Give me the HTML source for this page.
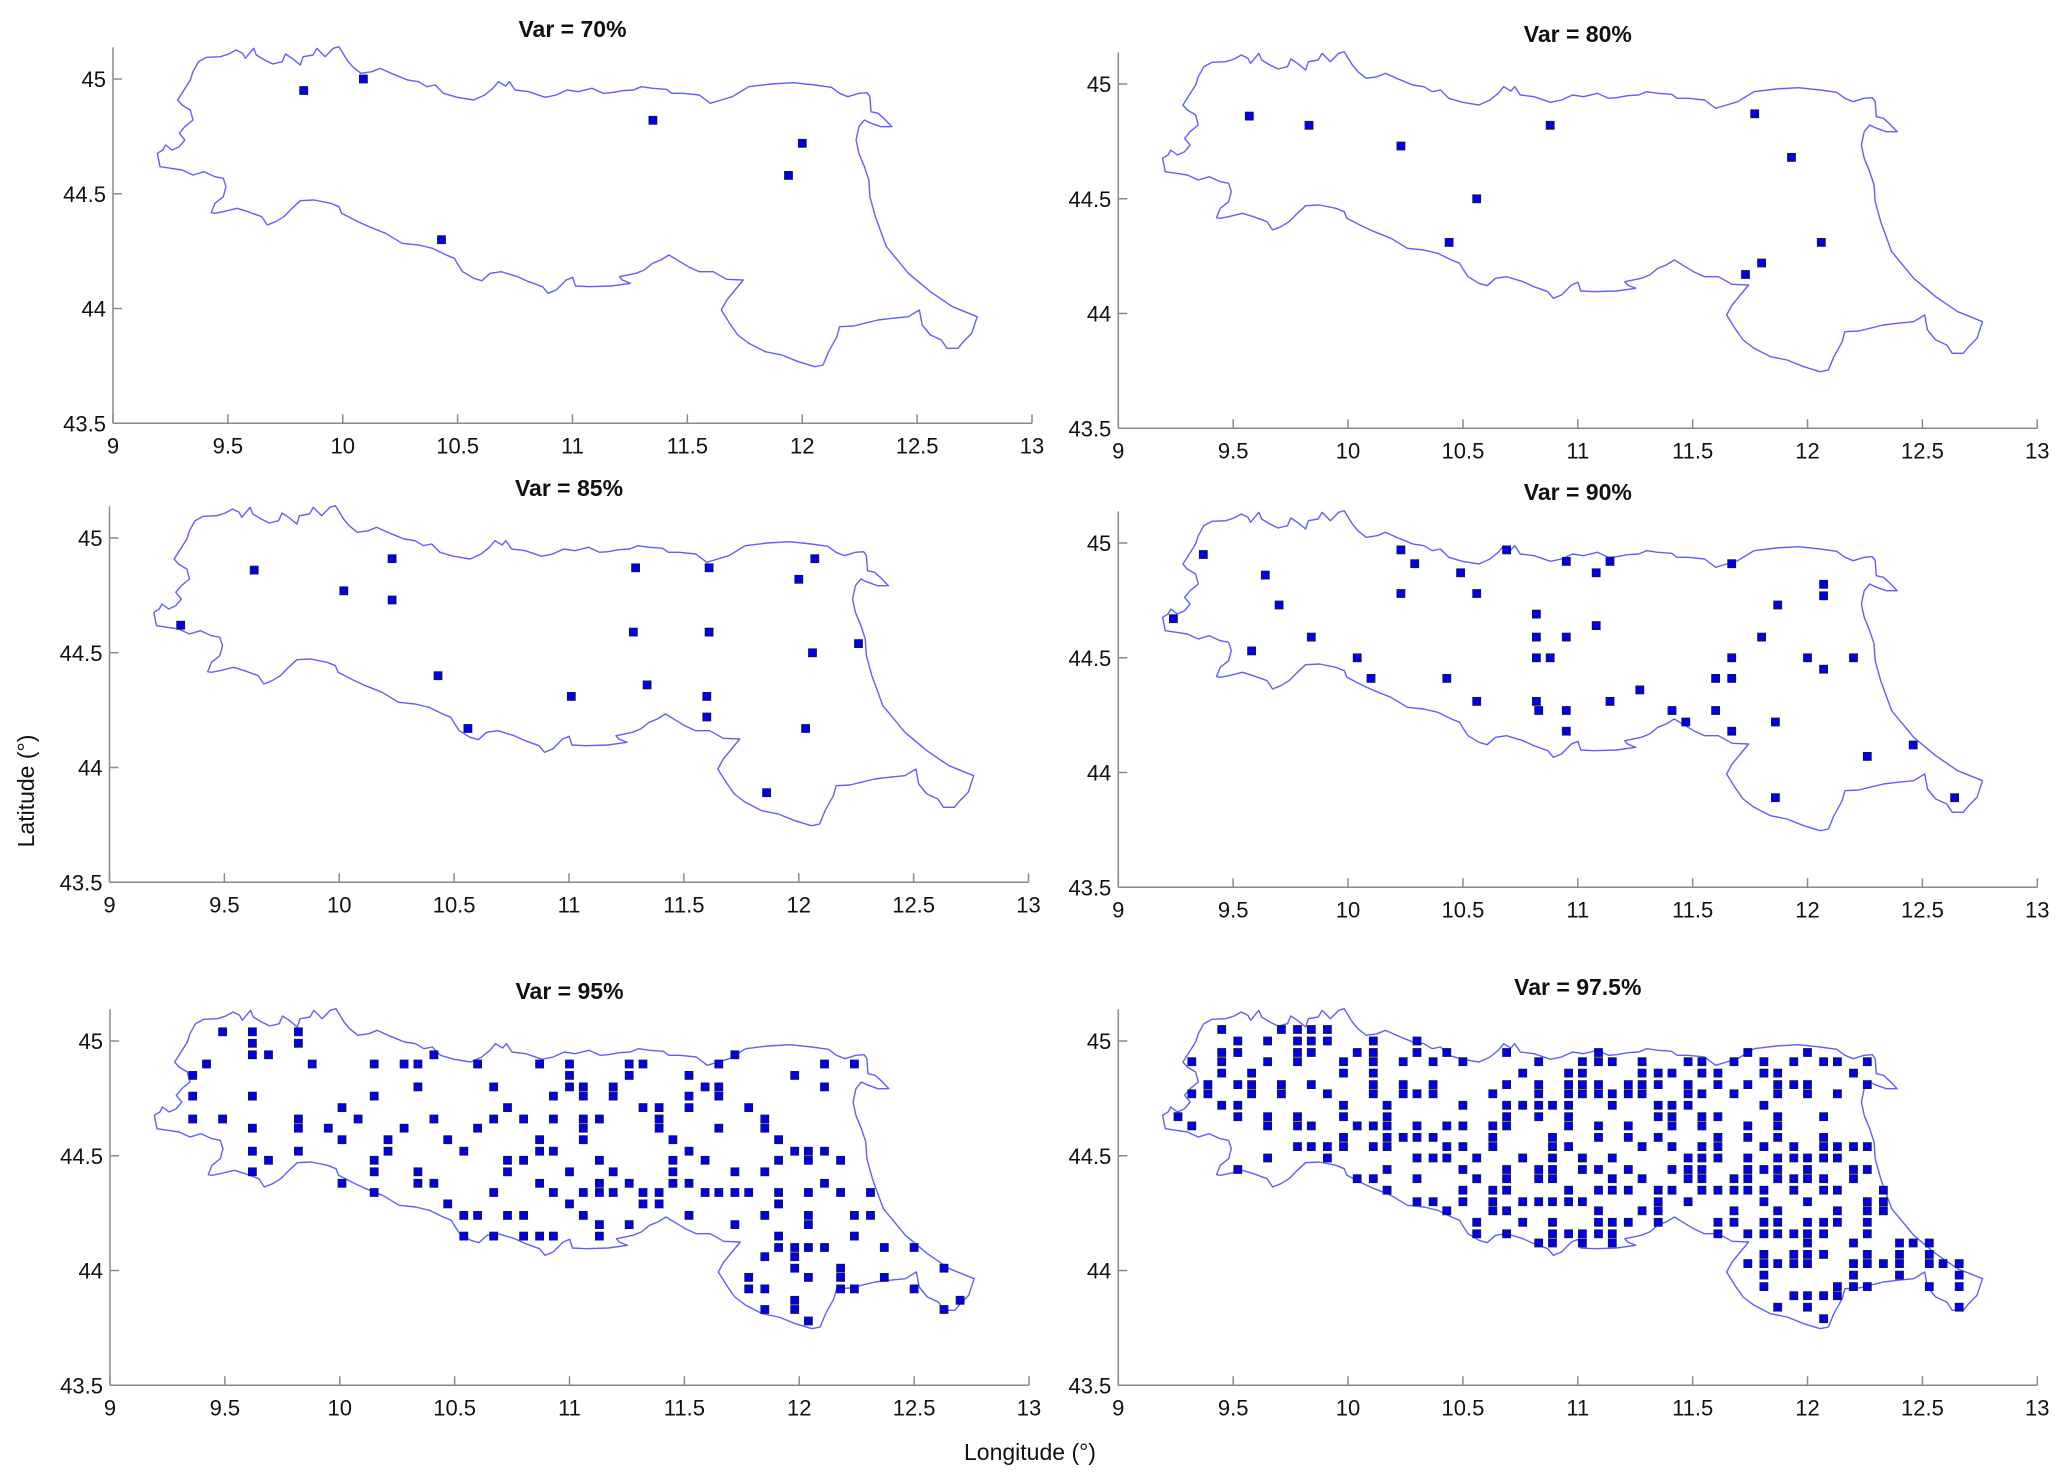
<!DOCTYPE html>
<html><head><meta charset="utf-8"><style>
html,body{margin:0;padding:0;background:#fff}
svg{display:block}
text{font-family:"Liberation Sans",Arial,sans-serif;fill:#111}
</style></head><body>
<svg id="fig" width="2067" height="1484" viewBox="0 0 2067 1484" xmlns="http://www.w3.org/2000/svg">
<text x="0" y="0" font-size="23" text-anchor="middle" transform="translate(34,791) rotate(-90)">Latitude (°)</text>
<text x="1030" y="1460" font-size="23" text-anchor="middle">Longitude (°)</text>
</svg>
<script>
// ---- data (degrees) ----
const xTicks = [9, 9.5, 10, 10.5, 11, 11.5, 12, 12.5, 13];
const xTickLabels = ["9","9.5","10","10.5","11","11.5","12","12.5","13"];
const yTicks = [43.5, 44, 44.5, 45];
const yTickLabels = ["43.5","44","44.5","45"];
const panelTitles = ["Var = 70%","Var = 80%","Var = 85%","Var = 90%","Var = 95%","Var = 97.5%"];

const p1Lon = [9.83,10.09,11.35,12.00,11.94,10.43];
const p1Lat = [44.95,45.00,44.82,44.72,44.58,44.30];

const p2Lon = [9.57,9.83,10.23,10.88,11.77,11.93,10.56,10.44,12.06,11.80,11.73];
const p2Lat = [44.86,44.82,44.73,44.82,44.87,44.68,44.50,44.31,44.31,44.22,44.17];

const p3Lon = [9.31,9.63,10.02,10.23,10.23,10.43,10.56,11.01,11.29,11.28,11.34,11.61,11.61,11.60,11.60,12.00,12.07,12.06,12.26,12.03,11.86];
const p3Lat = [44.62,44.86,44.77,44.91,44.73,44.40,44.17,44.31,44.87,44.59,44.36,44.87,44.59,44.31,44.22,44.82,44.91,44.50,44.54,44.17,43.89];

const p4Lon = [9.37,9.24,9.64,9.70,9.84,9.58,10.04,10.10,10.23,10.29,10.23,10.49,10.56,10.43,10.56,10.69,10.83,10.82,10.82,10.82,10.88,10.82,10.95,10.95,10.95,10.95,11.08,11.14,11.08,11.14,11.27,11.41,11.60,11.67,11.60,11.47,11.67,11.67,11.67,11.80,11.87,11.86,11.86,12.00,12.07,12.07,12.07,12.20,12.26,12.46,12.64];
const p4Lat = [44.95,44.67,44.86,44.73,44.59,44.53,44.50,44.41,44.97,44.91,44.78,44.87,44.78,44.41,44.31,44.97,44.27,44.69,44.59,44.50,44.50,44.31,44.92,44.59,44.27,44.18,44.87,44.92,44.64,44.31,44.36,44.27,44.41,44.50,44.27,44.22,44.41,44.18,44.91,44.59,44.73,44.22,43.89,44.50,44.82,44.77,44.45,44.50,44.07,44.12,43.89];

const p5RowLat = [45.04,44.99,44.94,44.90,44.85,44.80,44.76,44.71,44.66,44.62,44.57,44.52,44.48,44.43,44.38,44.34,44.29,44.24,44.20,44.15,44.10,44.06,44.01,43.97,43.92,43.87,43.83,43.78];
const p5RowLon = [
[9.49,9.62,9.82],
[9.62,9.82],
[9.62,9.69,10.41,11.72],
[9.42,9.88,10.15,10.28,10.34,10.60,10.87,11.00,11.26,11.32,11.65,12.11,12.24],
[9.36,11.00,11.26,11.52,11.98],
[10.34,10.67,11.00,11.06,11.19,11.59,11.65,12.11],
[9.36,9.62,10.15,10.93,11.06,11.19,11.52,11.65],
[10.01,10.73,11.32,11.39,11.52,11.78],
[9.36,9.49,9.82,10.08,10.41,10.67,10.80,10.93,11.06,11.13,11.39,11.85],
[9.62,9.82,9.95,10.28,10.60,11.06,11.39,11.65,11.85],
[10.01,10.21,10.47,10.87,11.06,11.45,11.91],
[9.62,9.82,10.21,10.54,10.87,10.93,11.52,11.98,12.04,12.11],
[9.69,10.15,10.73,10.80,11.13,11.45,11.59,11.91,12.04,12.18],
[9.62,10.15,10.34,10.73,11.00,11.19,11.45,11.72,11.85],
[10.01,10.34,10.41,10.87,11.13,11.26,11.45,11.52,12.11],
[10.15,10.67,10.93,11.06,11.13,11.19,11.32,11.39,11.59,11.65,11.72,11.78,11.91,12.04,12.18,12.31],
[10.47,11.00,11.32,11.39,11.91],
[10.54,10.60,10.73,10.80,11.06,11.52,11.85,12.04,12.24,12.31],
[11.13,11.26,11.72,12.04],
[10.54,10.67,10.80,10.87,10.93,11.13,11.91,12.24],
[11.91,11.98,12.04,12.11,12.37,12.50],
[11.85,11.98],
[11.98,12.18,12.63],
[11.78,12.04,12.18,12.37],
[11.78,11.85,12.18,12.24,12.50],
[11.98,12.70],
[11.85,11.98,12.63],
[12.04]
];

const p6RowLat = [45.05,45.00,44.95,44.91,44.86,44.81,44.77,44.72,44.67,44.63,44.58,44.54,44.49,44.44,44.40,44.35,44.30,44.26,44.21,44.16,44.12,44.07,44.03,43.98,43.93,43.89,43.84,43.79];
const p6RowLon = [
[9.45,9.71,9.78,9.84,9.91],
[9.52,9.65,9.78,9.84,9.91,10.11,10.30],
[9.45,9.52,9.78,9.84,10.04,10.11,10.30,10.43,10.69,11.09,11.74,12.00],
[9.32,9.45,9.65,9.78,9.98,10.11,10.24,10.37,10.50,10.83,11.02,11.09,11.15,11.28,11.48,11.54,11.68,11.81,11.94,12.07,12.13,12.26],
[9.45,9.58,9.98,10.11,10.76,10.96,11.02,11.28,11.35,11.41,11.54,11.61,11.81,11.87,12.20],
[9.39,9.52,9.58,9.71,9.84,10.11,10.24,10.37,10.69,10.83,10.96,11.02,11.09,11.22,11.28,11.35,11.48,11.61,11.74,11.87,11.94,12.00,12.26],
[9.32,9.39,9.58,9.71,9.91,10.11,10.24,10.30,10.37,10.63,10.83,10.96,11.02,11.09,11.15,11.22,11.28,11.48,11.54,11.68,11.87,12.00,12.13],
[9.45,9.52,9.98,10.17,10.50,10.69,10.76,10.83,10.89,10.96,11.15,11.35,11.41,11.48,11.81],
[9.26,9.52,9.65,9.78,9.98,10.17,10.69,10.83,10.96,11.35,11.41,11.54,11.61,11.87,12.07],
[9.32,9.65,9.78,9.84,10.04,10.11,10.17,10.30,10.43,10.50,10.63,10.69,10.96,11.09,11.22,11.41,11.54,11.74,11.87],
[9.98,10.17,10.24,10.30,10.37,10.63,10.89,11.09,11.22,11.35,11.61,11.74,11.87,12.07],
[9.78,9.84,9.91,9.98,10.11,10.17,10.43,10.50,10.63,10.89,10.96,11.28,11.41,11.54,11.61,11.81,11.94,12.07,12.13,12.20,12.26],
[9.65,9.91,10.30,10.37,10.43,10.56,10.76,10.89,11.02,11.15,11.48,11.54,11.61,11.74,11.87,11.94,12.00,12.07,12.13],
[9.52,10.17,10.50,10.69,10.83,10.89,11.02,11.09,11.22,11.41,11.48,11.54,11.74,11.81,11.87,12.00,12.20,12.26],
[10.04,10.11,10.30,10.56,10.69,10.83,10.89,11.15,11.28,11.48,11.54,11.68,11.74,11.87,11.94,12.00,12.07,12.20],
[10.17,10.50,10.63,10.69,10.96,11.09,11.15,11.22,11.35,11.41,11.54,11.61,11.68,11.74,11.81,11.94,12.07,12.13,12.33],
[10.30,10.37,10.50,10.63,10.76,10.83,10.89,10.96,11.02,11.35,11.48,11.81,12.00,12.26,12.33],
[10.43,10.63,10.69,11.09,11.28,11.35,11.68,11.87,12.13,12.26,12.33],
[10.56,10.76,10.89,11.09,11.15,11.22,11.35,11.61,11.68,11.81,11.87,12.00,12.07,12.13,12.26],
[10.56,10.69,10.89,10.96,11.02,11.09,11.15,11.61,11.74,11.81,11.87,11.94,12.00,12.07,12.26],
[10.83,10.89,11.02,11.15,12.00,12.20,12.40,12.46,12.53],
[11.81,11.94,12.00,12.07,12.26,12.40,12.53],
[11.74,11.81,11.87,11.94,12.00,12.20,12.26,12.33,12.40,12.53,12.59,12.66],
[11.81,12.20,12.40,12.66],
[11.81,12.13,12.20,12.26,12.53,12.66],
[11.94,12.00,12.07,12.13],
[11.87,12.00,12.66],
[12.07]
];

// region boundary, traced (lon,lat pairs in degrees, approximate)
const outlineTrace = [110,65,125,52,150,50,165,42,178,30,190,40,195,55,210,25,215,45,230,60,245,72,262,65,268,42,280,55,295,75,300,50,318,45,325,25,340,50,355,25,365,20,380,60,390,80,405,100,425,95,440,85,460,100,475,110,490,120,510,125,525,140,540,135,555,160,580,172,610,180,630,165,645,145,655,125,668,138,675,125,685,150,710,155,740,172,760,165,780,150,800,155,825,145,845,160,860,158,880,152,900,150,915,140,935,145,960,148,970,160,990,160,1020,165,1040,190,1060,180,1080,170,1100,150,1110,140,1150,132,1190,128,1230,135,1260,142,1275,160,1290,170,1310,160,1325,158,1330,170,1332,215,1345,220,1355,235,1370,260,1350,260,1330,248,1320,240,1310,260,1305,300,1310,340,1320,380,1328,420,1330,470,1340,530,1360,620,1400,700,1440,755,1480,800,1525,830,1515,880,1500,905,1490,925,1470,925,1460,900,1440,885,1425,855,1420,810,1400,830,1370,835,1345,840,1320,850,1300,858,1275,860,1270,890,1255,935,1245,975,1230,980,1200,965,1170,945,1140,935,1110,910,1090,885,1075,850,1060,810,1070,780,1080,760,1100,720,1070,718,1045,695,1020,695,1000,680,985,665,965,645,950,660,935,670,920,690,905,700,875,710,880,720,895,730,860,738,820,740,795,738,790,712,778,720,760,750,745,760,735,740,710,725,690,710,660,695,640,700,625,722,610,715,590,695,580,670,575,655,560,645,535,625,510,615,480,610,465,595,450,580,420,560,400,545,370,520,365,500,350,490,320,480,295,482,280,505,265,530,250,545,235,555,225,530,200,515,180,505,155,515,140,520,133,518,140,490,155,470,160,440,155,415,140,410,120,395,100,405,80,390,60,385,40,380,35,340,45,330,50,315,62,330,75,320,85,300,75,280,85,260,100,240,95,210,80,195,72,180,80,160,95,120,100,95,110,65];

// ---- layout ----
const PXDEG_X = 229.75, PXDEG_Y = 229.5;
const panels = [
  {ax:113,   y45:79,   ty:37},
  {ax:1118.3,y45:84,   ty:42},
  {ax:109.5, y45:538,  ty:496},
  {ax:1118.3,y45:543,  ty:500},
  {ax:110,   y45:1041, ty:999},
  {ax:1118.3,y45:1041, ty:995}
];
const NS = "http://www.w3.org/2000/svg";
const svg = document.getElementById('fig');
function mk(tag, attrs, parent){ const e=document.createElementNS(NS,tag); for(const k in attrs) e.setAttribute(k,attrs[k]); (parent||svg).appendChild(e); return e; }
function flatten(rowLat,rowLon){ const lon=[],lat=[]; rowLon.forEach((r,i)=>r.forEach(v=>{lon.push(v);lat.push(rowLat[i]);})); return {lon,lat}; }
const p5 = flatten(p5RowLat,p5RowLon), p6 = flatten(p6RowLat,p6RowLon);
const series = [
  {lon:p1Lon,lat:p1Lat},{lon:p2Lon,lat:p2Lat},{lon:p3Lon,lat:p3Lat},
  {lon:p4Lon,lat:p4Lat},p5,p6
];
const olLon=[], olLat=[];
for(let i=0;i<outlineTrace.length;i+=2){ olLon.push(9.1088+outlineTrace[i]/417.5); olLat.push(45.1699-outlineTrace[i+1]/688.5); }

panels.forEach((p,pi)=>{
  const xs = lon => p.ax + (lon-9)*PXDEG_X;
  const ys = lat => p.y45 + (45-lat)*PXDEG_Y;
  const g = mk('g',{});
  
  
  const xL = xs(9), xR = xs(13), yB = ys(43.5), yT = ys(45.138);
  const axY = mk('line',{x1:xL,y1:yT,x2:xL,y2:yB,stroke:'#8a8a8a','stroke-width':1.5},g);
  
  
  const axX = mk('line',{x1:xL,y1:yB,x2:xR,y2:yB,stroke:'#8a8a8a','stroke-width':1.5},g);
  
  
  xTicks.forEach((t,i)=>{
    const x = xs(t);
    const tk = mk('line',{x1:x,y1:yB,x2:x,y2:yB-9,stroke:'#8a8a8a','stroke-width':1.5},g);
    
    
    const tl = mk('text',{x:x,y:yB+30,'font-size':22,'text-anchor':'middle'},g);
    tl.textContent = xTickLabels[i];
    
    
  });
  yTicks.forEach((t,i)=>{
    const y = ys(t);
    const tk = mk('line',{x1:xL,y1:y,x2:xL+9,y2:y,stroke:'#8a8a8a','stroke-width':1.5},g);
    
    
    const tl = mk('text',{x:xL-7,y:y+8,'font-size':22,'text-anchor':'end'},g);
    tl.textContent = yTickLabels[i];
    
    
  });
  const title = mk('text',{x:(xL+xR)/2,y:p.ty,'font-size':23,'font-weight':'bold','text-anchor':'middle'},g);
  title.textContent = panelTitles[pi];
  
  
  let pts=''; olLon.forEach((v,i)=>{ pts += xs(v).toFixed(1)+','+ys(olLat[i]).toFixed(1)+' '; });
  const ol = mk('polygon',{points:pts,fill:'none',stroke:'#5f5fff','stroke-width':1.4,'stroke-linejoin':'round'},g);
  
  
  const s = series[pi];
  s.lon.forEach((v,i)=>{
    const r = mk('rect',{x:(xs(v)-4).toFixed(1),y:(ys(s.lat[i])-4).toFixed(1),width:8,height:8,fill:'#0000e6',stroke:'#1a1a40','stroke-width':0.8},g);
    
    
  });
});
</script>
</body></html>
